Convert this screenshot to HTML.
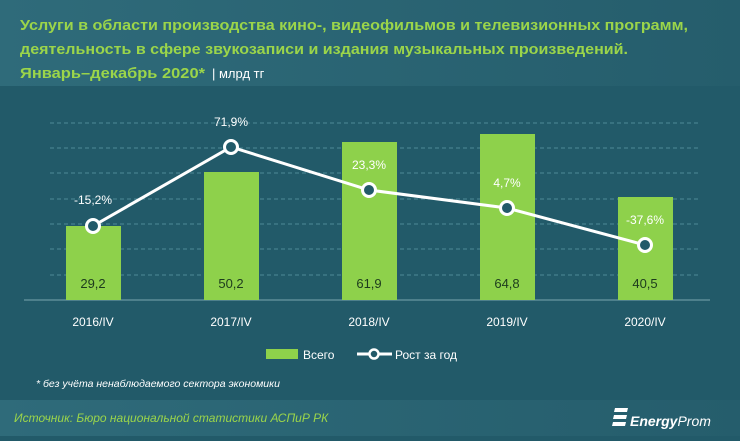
<!DOCTYPE html>
<html><head><meta charset="utf-8"><style>
body{margin:0;width:740px;height:436px;overflow:hidden;background:#225a69;font-family:"Liberation Sans",sans-serif}
</style></head><body>
<svg width="740" height="436" xmlns="http://www.w3.org/2000/svg">
<defs><linearGradient id="h" x1="0" x2="1"><stop offset="0" stop-color="#2f6b7a"/><stop offset="1" stop-color="#255d6c"/></linearGradient></defs>
<rect x="0" y="0" width="740" height="86" fill="url(#h)"/>
<rect x="0" y="400" width="740" height="36" fill="url(#h)"/>
<g font-family="Liberation Sans Narrow, Liberation Sans, sans-serif" font-weight="bold" fill="#9bd54a" font-size="15">
<text x="20" y="30" textLength="668" lengthAdjust="spacingAndGlyphs">Услуги в  области производства кино-, видеофильмов и телевизионных программ,</text>
<text x="20" y="54" textLength="608" lengthAdjust="spacingAndGlyphs">деятельность в сфере звукозаписи и издания музыкальных произведений.</text>
<text x="20" y="78" textLength="185" lengthAdjust="spacingAndGlyphs">Январь–декабрь 2020*</text>
</g>
<text x="212" y="78" fill="#fff" font-size="13">| млрд тг</text>
<g stroke="#4f8a98" stroke-dasharray="4,3" stroke-width="1">
<line x1="50" x2="700" y1="123" y2="123"/><line x1="50" x2="700" y1="148" y2="148"/><line x1="50" x2="700" y1="173" y2="173"/><line x1="50" x2="700" y1="199" y2="199"/><line x1="50" x2="700" y1="224" y2="224"/><line x1="50" x2="700" y1="249" y2="249"/><line x1="50" x2="700" y1="275" y2="275"/>
</g>
<line x1="24" x2="710" y1="300" y2="300" stroke="#7aa5b0"/>
<g fill="#8ed14b">
<rect x="66" y="226" width="55" height="74"/><rect x="204" y="172" width="55" height="128"/><rect x="342" y="142" width="55" height="158"/><rect x="480" y="134" width="55" height="166"/><rect x="618" y="197" width="55" height="103"/>
</g>
<g font-size="13" fill="#1d3b1d" text-anchor="middle">
<text x="93" y="288">29,2</text><text x="231" y="288">50,2</text><text x="369" y="288">61,9</text><text x="507" y="288">64,8</text><text x="645" y="288">40,5</text>
</g>
<polyline points="93,226 231,147 369,190 507,208 645,245" fill="none" stroke="#fff" stroke-width="3"/>
<g fill="#225a69" stroke="#fff" stroke-width="3">
<circle cx="93" cy="226" r="6.5"/><circle cx="231" cy="147" r="6.5"/><circle cx="369" cy="190" r="6.5"/><circle cx="507" cy="208" r="6.5"/><circle cx="645" cy="245" r="6.5"/>
</g>
<g font-size="12" fill="#fff" text-anchor="middle">
<text x="93" y="204">-15,2%</text><text x="231" y="126">71,9%</text><text x="369" y="169">23,3%</text><text x="507" y="187">4,7%</text><text x="645" y="224">-37,6%</text>
<text x="93" y="326">2016/IV</text><text x="231" y="326">2017/IV</text><text x="369" y="326">2018/IV</text><text x="507" y="326">2019/IV</text><text x="645" y="326">2020/IV</text>
</g>
<rect x="266" y="349" width="32" height="10" fill="#8ed14b"/>
<text x="303" y="359" fill="#fff" font-size="12">Всего</text>
<line x1="357" x2="392" y1="354" y2="354" stroke="#fff" stroke-width="3"/>
<circle cx="374" cy="354" r="4.5" fill="#225a69" stroke="#fff" stroke-width="2.5"/>
<text x="395" y="359" fill="#fff" font-size="12">Рост за год</text>
<text x="36" y="387" fill="#fff" font-size="10.5" font-style="italic">* без учёта ненаблюдаемого сектора экономики</text>
<text x="14" y="422" fill="#9bd54a" font-size="12" font-style="italic">Источник: Бюро национальной  статистики АСПиР РК</text>
<g fill="#fff">
<polygon points="615,408 628,408 627,412 614,412"/>
<polygon points="614,415 627,415 626,419 613,419"/>
<polygon points="613,422 626,422 625,426 612,426"/>
</g>
<text x="630" y="426" fill="#fff" font-size="14" font-weight="bold" font-style="italic">Energy<tspan font-weight="normal">Prom</tspan></text>
</svg>
</body></html>
